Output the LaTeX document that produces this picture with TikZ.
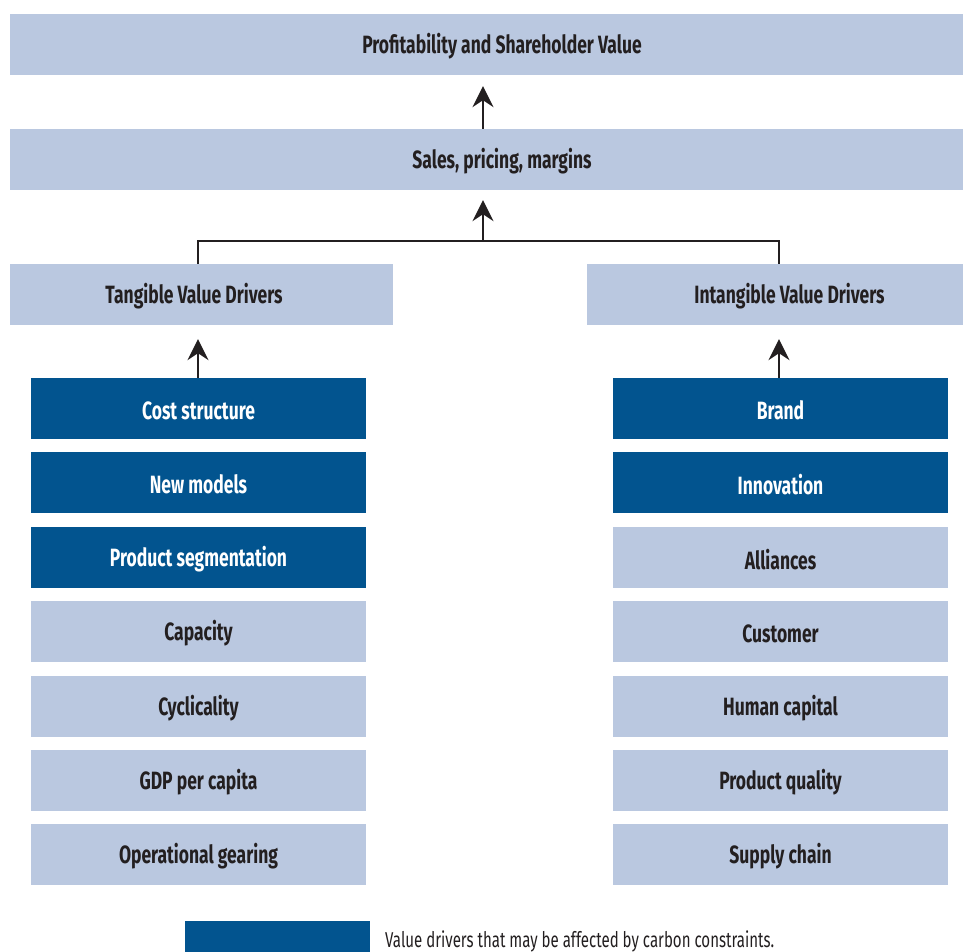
\documentclass[tikz,border=0pt]{standalone}
\usepackage{fontspec}
\setmainfont{Fira Sans}[FakeStretch=0.7]
\usetikzlibrary{arrows.meta}
\definecolor{lblue}{HTML}{BAC8E0}
\definecolor{dblue}{HTML}{02548F}
\definecolor{ink}{HTML}{231F20}
\tikzset{
  lbox/.style={fill=lblue, draw=none, inner sep=0pt, minimum height=61pt},
  dbox/.style={fill=dblue, draw=none, inner sep=0pt, minimum height=61pt, minimum width=335pt},
  cbox/.style={fill=lblue, draw=none, inner sep=0pt, minimum height=61pt, minimum width=335pt},
  ltxt/.style={text=ink, font=\bfseries\fontsize{25}{28}\selectfont, inner sep=0pt, yshift=-2pt},
  dtxt/.style={text=white, font=\bfseries\fontsize{25}{28}\selectfont, inner sep=0pt, yshift=-2pt},
  conn/.style={draw=ink, line width=1.4pt},
  arr/.style={conn, -{Stealth[length=21pt, width=21pt, inset=7pt]}},
}
\begin{document}
\begin{tikzpicture}[x=1pt, y=-1pt]
\useasboundingbox (0,0) rectangle (963,952);
% top rows
\node[lbox, minimum width=984pt] (top) at (502,44.5) {};
\node[ltxt] (topt) at (502,44.5) {Profitability and Shareholder Value};
\node[lbox, minimum width=984pt] (sales) at (502,159.5) {};
\node[ltxt] (salest) at (502,159.5) {Sales, pricing, margins};
% drivers
\node[lbox, minimum width=383pt] (tang) at (201.5,294.5) {};
\node[ltxt] (tangt) at (194,294.5) {Tangible Value Drivers};
\node[lbox, minimum width=405pt] (intg) at (789.5,294.5) {};
\node[ltxt] (intgt) at (789.5,294.5) {Intangible Value Drivers};
% left column
\node[dbox] (l1) at (198.5,408.5) {};
\node[dtxt] at (l1) {Cost structure};
\node[dbox] (l2) at (198.5,482.5) {};
\node[dtxt] at (l2) {New models};
\node[dbox] (l3) at (198.5,557.5) {};
\node[dtxt] at (l3) {Product segmentation};
\node[cbox] (l4) at (198.5,631.5) {};
\node[ltxt] at (l4) {Capacity};
\node[cbox] (l5) at (198.5,706.5) {};
\node[ltxt] at (l5) {Cyclicality};
\node[cbox] (l6) at (198.5,780.5) {};
\node[ltxt] at (l6) {GDP per capita};
\node[cbox] (l7) at (198.5,854.5) {};
\node[ltxt] at (l7) {Operational gearing};
% right column
\node[dbox] (r1) at (780.5,408.5) {};
\node[dtxt] at (r1) {Brand};
\node[dbox] (r2) at (780.5,482.5) {};
\node[dtxt] at (r2) {Innovation};
\node[cbox] (r3) at (780.5,557.5) {};
\node[ltxt] at (r3) {Alliances};
\node[cbox] (r4) at (780.5,631.5) {};
\node[ltxt] at (r4) {Customer};
\node[cbox] (r5) at (780.5,706.5) {};
\node[ltxt] at (r5) {Human capital};
\node[cbox] (r6) at (780.5,780.5) {};
\node[ltxt] at (r6) {Product quality};
\node[cbox] (r7) at (780.5,854.5) {};
\node[ltxt] at (r7) {Supply chain};
% legend
\node[fill=dblue, inner sep=0pt, minimum width=185pt, minimum height=40pt] (leg) at (277.5,941) {};
\node[anchor=base west, text=ink, font=\fontsize{21.5}{24}\selectfont, inner sep=0pt] (legt) at (385,947) {Value drivers that may be affected by carbon constraints.};
% connectors
\coordinate (hub) at (483,241);
\coordinate (lh) at (198,241);
\coordinate (rh) at (779,241);
\draw[conn] (tang.north -| lh) -- (lh) -- (rh) -- (intg.north -| rh);
\draw[arr] (hub) -- ([yshift=-10pt]sales.south -| hub);
\draw[arr] (sales.north -| hub) -- ([yshift=-11pt]top.south -| hub);
\draw[arr] (l1.north -| lh) -- ([yshift=-14pt]tang.south -| lh);
\draw[arr] (r1.north -| rh) -- ([yshift=-14pt]intg.south -| rh);
\end{tikzpicture}
\end{document}
